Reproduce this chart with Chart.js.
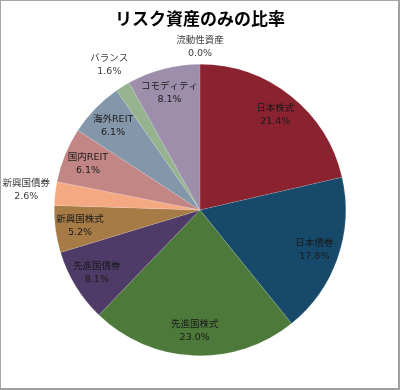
<!DOCTYPE html>
<html>
<head>
<meta charset="utf-8">
<script src="https://cdn.jsdelivr.net/npm/chart.js@4.4.1/dist/chart.umd.min.js"></script>
<style>
    html, body { margin: 0; padding: 0; background: #fff; }
    #wrap { position: relative; width: 400px; height: 390px; }
    #frame {
        position: absolute; left: 0; top: 0; width: 400px; height: 390px;
        box-sizing: border-box; pointer-events: none;
        border-top: 1px solid #a6a6a6; border-left: 1px solid #a6a6a6;
        border-right: 2px solid #a0a0a0; border-bottom: 2px solid #a0a0a0;
    }
</style>
</head>
<body>
<div id="wrap">
    <canvas id="riskChart" width="400" height="390"></canvas>
    <div id="frame"></div>
</div>
<script>
const categories = ['日本株式', '日本債券', '先進国株式', '先進国債券', '新興国株式',
    '新興国債券', '国内REIT', '海外REIT', 'バランス', 'コモディティ', '流動性資産'];
const shares = [21.4, 17.8, 23.0, 8.1, 5.2, 2.6, 6.1, 6.1, 1.6, 8.1, 0.0];
const sliceColors = ['#8b2230', '#174a6a', '#4d7a3a', '#4f3b68', '#a67b46',
    '#f5a983', '#c28685', '#8497aa', '#96b38f', '#9d8fab', '#7fa0c8'];

// labels: inside the slice for big ones, outside for the small ones
const sliceLabels = {
    id: 'sliceLabels',
    afterDatasetsDraw(chart) {
        const ctx = chart.ctx;
        const arcs = chart.getDatasetMeta(0).data;
        ctx.save();
        ctx.font = '9.5px "DejaVu Sans", "Noto Sans CJK JP", sans-serif';
        ctx.textAlign = 'center';
        ctx.textBaseline = 'middle';
        arcs.forEach((arc, i) => {
            const mid = (arc.startAngle + arc.endAngle) / 2;
            const name = categories[i];
            const pct = shares[i].toFixed(1) + '%';
            let dist;
            if (shares[i] >= 3) {
                dist = arc.outerRadius * 0.83;
                ctx.fillStyle = '#1a1a1a';
            } else {
                const halfW = Math.max(ctx.measureText(name).width, ctx.measureText(pct).width) / 2;
                dist = arc.outerRadius + 4 + halfW * Math.abs(Math.cos(mid)) + 13 * Math.abs(Math.sin(mid));
                ctx.fillStyle = '#404040';
            }
            const x = arc.x + Math.cos(mid) * dist;
            const y = arc.y + Math.sin(mid) * dist;
            ctx.fillText(name, x, y - 6.5);
            ctx.fillText(pct, x, y + 6.5);
        });
        ctx.restore();
    }
};

const ctx = document.getElementById('riskChart').getContext('2d');
new Chart(ctx, {
    type: 'pie',
    data: {
        labels: categories,
        datasets: [{
            data: shares,
            backgroundColor: sliceColors,
            borderColor: 'rgba(255,255,255,0.25)',
            borderWidth: 0.5
        }]
    },
    options: {
        responsive: false,
        animation: false,
        layout: {
            padding: { top: 0, bottom: 34, left: 54, right: 54 }
        },
        plugins: {
            legend: { display: false },
            tooltip: { enabled: false },
            title: {
                display: true,
                text: 'リスク資産のみの比率',
                color: '#000',
                font: { family: '"Noto Sans CJK JP", sans-serif', size: 17, weight: 'bold', lineHeight: 1.2 },
                padding: { top: 8, bottom: 35.6 }
            }
        }
    },
    plugins: [sliceLabels]
});
</script>
</body>
</html>
